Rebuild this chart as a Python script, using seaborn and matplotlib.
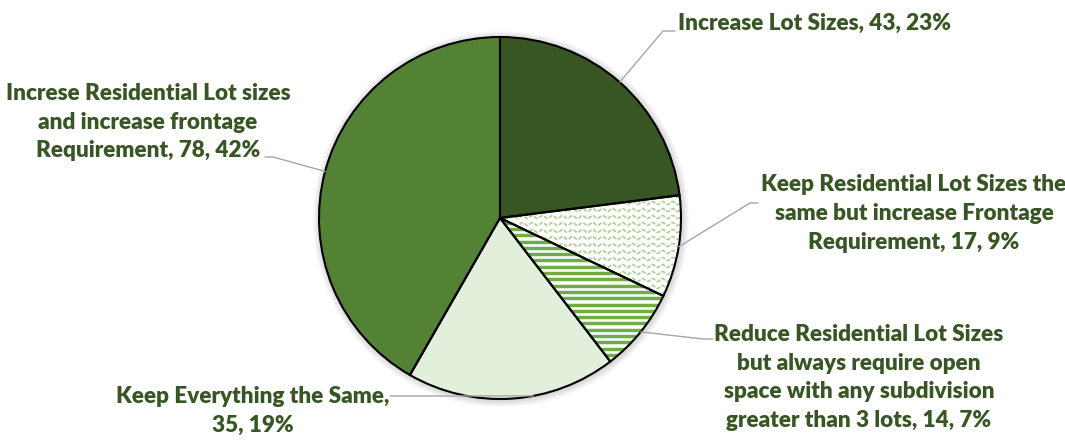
import numpy as np
import matplotlib
matplotlib.use("Agg")
import matplotlib.pyplot as plt
from matplotlib.patches import Circle
import seaborn as sns

# ---- data ----
labels = [
    "Increase Lot Sizes",
    "Keep Residential Lot Sizes the\nsame but increase Frontage\nRequirement",
    "Reduce Residential Lot Sizes\nbut always require open\nspace with any subdivision\ngreater than 3 lots",
    "Keep Everything the Same,\n",
    "Increse Residential Lot sizes\nand increase frontage\nRequirement",
]
values = [43, 17, 14, 35, 78]
colors = ["#375623", "#FFFFFF", "#FFFFFF", "#E2EFDA", "#548235"]

sns.set_theme(style="white")
plt.rcParams["font.family"] = ["Lato", "DejaVu Sans"]

W, H = 1065, 443
fig = plt.figure(figsize=(W / 100, H / 100), dpi=100)
ax = fig.add_axes([0, 0, 1, 1])

cx, cy, R = 500, H - 218, 181

# soft shadow
for k in range(1, 9):
    ax.add_patch(Circle((cx + 1, cy - 1), R + k * 0.9, color="black",
                        alpha=0.018, lw=0, zorder=0))

wedges, _ = ax.pie(values, colors=colors, startangle=90, counterclock=False,
                   center=(cx, cy), radius=R,
                   wedgeprops=dict(edgecolor="none", linewidth=0))
for w in wedges:
    w.set_zorder(1)

# horizontal stripes in wedge 3
w3 = wedges[2]
for yy in np.arange(cy - R, cy + R, 6.3):
    ln, = ax.plot([cx - R, cx + R], [yy, yy], color="#70AD47", lw=2.5,
                  solid_capstyle="butt", zorder=2)
    ln.set_clip_path(w3)

# wave pattern in wedge 2
w2 = wedges[1]
xs = np.linspace(cx, cx + R, 600)
for yy in np.arange(cy - R, cy + R, 7.0):
    ln, = ax.plot(xs, yy + 1.5 * np.sin(2 * np.pi * (xs - cx) / 10.0),
                  color="#A9D08E", lw=1.2, dashes=(2.5, 1.0), zorder=2)
    ln.set_clip_path(w2)

# edge outlines on top
ax.pie(values, colors=["none"] * len(values), startangle=90, counterclock=False,
       center=(cx, cy), radius=R,
       wedgeprops=dict(edgecolor="black", linewidth=1.5, fill=False, zorder=3))

total = sum(values)
texts = [f"{lab}, {v}, {round(100 * v / total)}%" if not lab.endswith("\n")
         else f"{lab}{v}, {round(100 * v / total)}%"
         for lab, v in zip(labels, values)]

# label layout (pixel coordinates from top)
text_pos = [(678, 23, "left"), (914, 213.5, "center"), (859, 377.5, "center"),
            (253, 411, "center"), (148, 122, "center")]
elbows = [[(675, 31), (663, 31)], [(758, 203), (750, 203)],
          [(713, 339), (703, 339)], [(390, 396), (396, 396)],
          [(265, 157), (273, 157)]]
anchor_frac = [0.5, 0.5, 0.5, 0.4, 0.5]

tcol = "#375623"
fs = 16.2
for t, (x, y, ha) in zip(texts, text_pos):
    ax.text(x, H - y, t, ha=ha, va="center", ma="center", fontsize=fs,
            fontweight="heavy", color=tcol, linespacing=1.47, zorder=5)

# leader lines to wedge edges
cum = np.cumsum([0] + values)
for i, v in enumerate(values):
    mid = (cum[i] + anchor_frac[i] * v) / total * 2 * np.pi
    ax_x = cx + R * np.sin(mid)
    ax_y = cy + R * np.cos(mid)
    xsl = [p[0] for p in elbows[i]] + [ax_x]
    ysl = [H - p[1] for p in elbows[i]] + [ax_y]
    ax.plot(xsl, ysl, color="#A6A6A6", lw=1.0, zorder=4)

ax.set_xlim(0, W)
ax.set_ylim(0, H)
ax.set_aspect("equal")
ax.axis("off")
fig.savefig("out.png", dpi=100, facecolor="white")
